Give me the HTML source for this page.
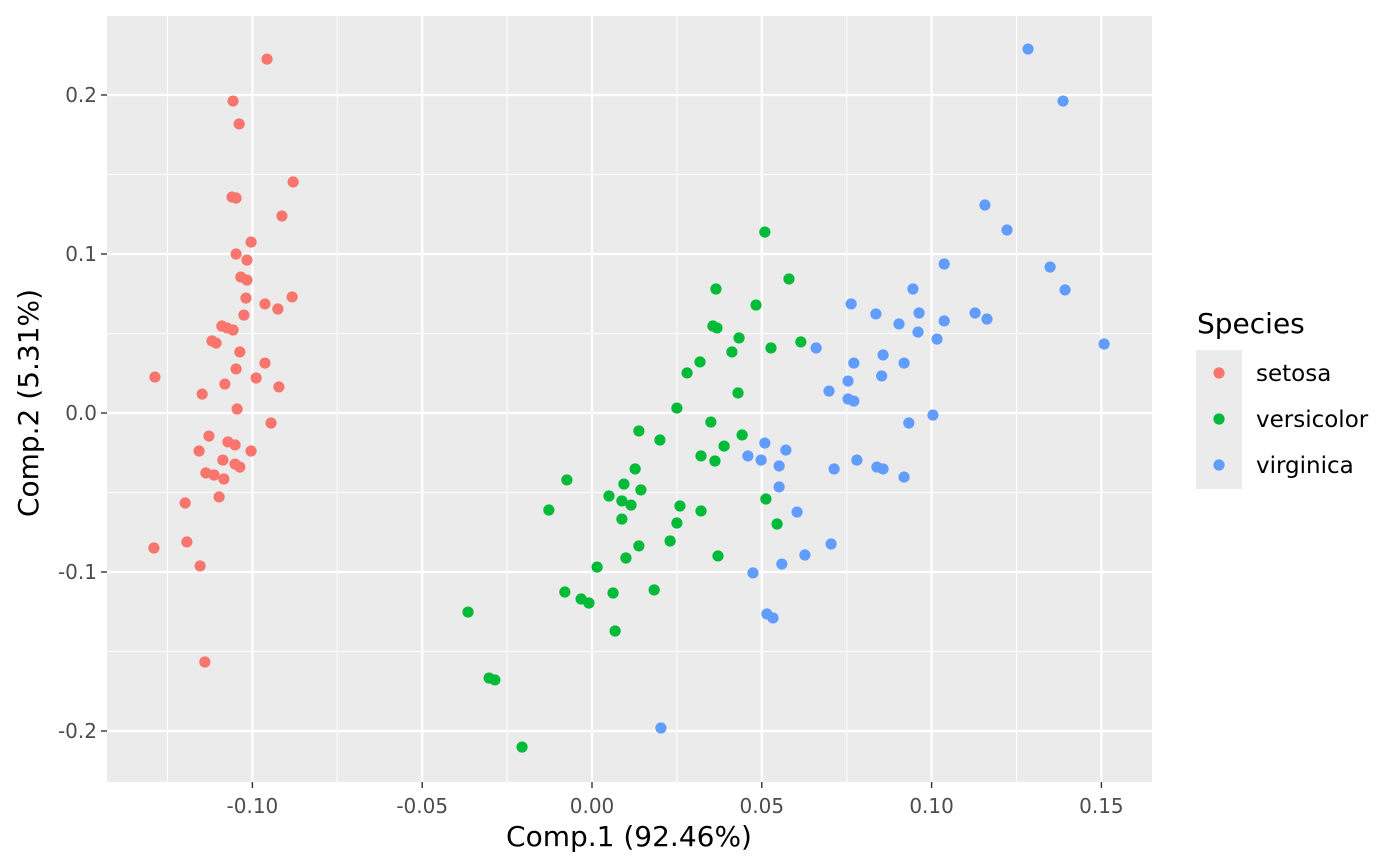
<!DOCTYPE html>
<html><head><meta charset="utf-8"><style>
html,body{margin:0;padding:0;background:#fff;}
svg{display:block;font-family:"DejaVu Sans","Liberation Sans",sans-serif;}
</style></head><body>
<svg id="chart" width="1400" height="866" xmlns="http://www.w3.org/2000/svg">
<rect x="107" y="16" width="1045" height="766" fill="#ebebeb"/>
<g id="grid"></g><g id="pts"></g><g id="ticks"></g>
<text x="629" y="846" font-size="28" text-anchor="middle" fill="#000">Comp.1 (92.46%)</text>
<text x="0" y="0" font-size="28" text-anchor="middle" fill="#000" transform="translate(38,403) rotate(-90)">Comp.2 (5.31%)</text>
<g>
<text x="1197" y="333" font-size="28" fill="#000">Species</text>
<rect x="1196" y="350" width="46" height="139" fill="#ebebeb"/>
<g id="legend"></g>
</g>
</svg>
<script>
const xTicks=[-0.10,-0.05,0.00,0.05,0.10,0.15];
const xTickLabels=["-0.10","-0.05","0.00","0.05","0.10","0.15"];
const yTicks=[-0.2,-0.1,0.0,0.1,0.2];
const yTickLabels=["-0.2","-0.1","0.0","0.1","0.2"];
const species=["setosa","versicolor","virginica"];
const colors=["#F8766D","#00BA38","#619CFF"];
const setosaX=[-0.0957,-0.1057,-0.1039,-0.1060,-0.1048,-0.0880,-0.0913,-0.1004,-0.1048,-0.1016,-0.1034,-0.1016,-0.1019,-0.0883,-0.0963,-0.0925,-0.1025,-0.1090,-0.1075,-0.1057,-0.1119,-0.1107,-0.1037,-0.0963,-0.1048,-0.1287,-0.0989,-0.1081,-0.0922,-0.1148,-0.1045,-0.0945,-0.1128,-0.1072,-0.1051,-0.1157,-0.1004,-0.1087,-0.1051,-0.1037,-0.1137,-0.1113,-0.1084,-0.1098,-0.1198,-0.1193,-0.1290,-0.1154,-0.1140];
const setosaY=[0.2226,0.1962,0.1818,0.1358,0.1352,0.1453,0.1239,0.1075,0.1000,0.0962,0.0855,0.0836,0.0723,0.0730,0.0686,0.0654,0.0616,0.0547,0.0535,0.0522,0.0453,0.0440,0.0384,0.0314,0.0277,0.0226,0.0220,0.0182,0.0164,0.0119,0.0025,-0.0063,-0.0145,-0.0182,-0.0201,-0.0239,-0.0239,-0.0296,-0.0321,-0.0340,-0.0377,-0.0390,-0.0415,-0.0528,-0.0566,-0.0811,-0.0849,-0.0962,-0.1566];
const versicolorX=[0.0509,0.0580,0.0365,0.0483,0.0356,0.0368,0.0433,0.0615,0.0527,0.0412,0.0318,0.0280,0.0430,0.0250,0.0350,0.0138,0.0442,0.0200,0.0389,0.0321,0.0362,0.0127,-0.0074,0.0094,0.0144,0.0050,0.0512,0.0088,0.0115,0.0259,-0.0127,0.0321,0.0088,0.0250,0.0545,0.0138,0.0230,0.0100,0.0371,0.0015,0.0183,-0.0080,0.0062,-0.0032,-0.0009,0.0068,-0.0365,-0.0303,-0.0286,-0.0206];
const versicolorY=[0.1138,0.0843,0.0780,0.0679,0.0547,0.0535,0.0472,0.0447,0.0409,0.0384,0.0321,0.0252,0.0126,0.0031,-0.0057,-0.0113,-0.0138,-0.0170,-0.0208,-0.0270,-0.0302,-0.0352,-0.0421,-0.0447,-0.0484,-0.0522,-0.0541,-0.0553,-0.0579,-0.0585,-0.0610,-0.0616,-0.0667,-0.0692,-0.0698,-0.0836,-0.0805,-0.0912,-0.0899,-0.0969,-0.1113,-0.1126,-0.1132,-0.1170,-0.1195,-0.1371,-0.1252,-0.1667,-0.1679,-0.2101];
const virginicaX=[0.1284,0.1387,0.1157,0.1222,0.1037,0.1349,0.1393,0.0945,0.0763,0.0963,0.0836,0.1128,0.1163,0.1037,0.0904,0.0960,0.1016,0.0660,0.1508,0.0857,0.0771,0.0919,0.0853,0.0754,0.0698,0.0754,0.0771,0.1004,0.0933,0.0509,0.0571,0.0459,0.0498,0.0780,0.0551,0.0713,0.0839,0.0857,0.0919,0.0551,0.0604,0.0704,0.0627,0.0559,0.0474,0.0515,0.0533,0.0203];
const virginicaY=[0.2289,0.1962,0.1308,0.1151,0.0937,0.0918,0.0774,0.0780,0.0686,0.0629,0.0623,0.0629,0.0591,0.0579,0.0560,0.0509,0.0465,0.0409,0.0434,0.0365,0.0314,0.0314,0.0233,0.0201,0.0138,0.0088,0.0075,-0.0013,-0.0063,-0.0189,-0.0233,-0.0270,-0.0296,-0.0296,-0.0333,-0.0352,-0.0340,-0.0352,-0.0403,-0.0465,-0.0623,-0.0824,-0.0893,-0.0950,-0.1006,-0.1264,-0.1289,-0.1981];

const NS="http://www.w3.org/2000/svg";
const X0=107,X1=1152,Y0=16,Y1=782;
function sx(v){return 592+v*3396;}
function sy(v){return 413-v*1590;}
function mk(tag,attrs,parent){const e=document.createElementNS(NS,tag);for(const k in attrs)e.setAttribute(k,attrs[k]);parent.appendChild(e);return e;}
const grid=document.getElementById('grid'),ticks=document.getElementById('ticks'),pts=document.getElementById('pts'),leg=document.getElementById('legend');
for(let i=0;i<=xTicks.length;i++){const v=(i<xTicks.length?xTicks[i]:xTicks[i-1]+0.05)-0.025;const x=sx(v);if(x>X0&&x<X1){const l=mk('line',{x1:x,x2:x,y1:Y0,y2:Y1,stroke:'#fff','stroke-width':1},grid);}}
for(let i=0;i<=yTicks.length;i++){const v=(i<yTicks.length?yTicks[i]:yTicks[i-1]+0.1)-0.05;const y=sy(v);if(y>Y0&&y<Y1){const l=mk('line',{x1:X0,x2:X1,y1:y,y2:y,stroke:'#fff','stroke-width':1},grid);}}
xTicks.forEach((v,i)=>{const x=sx(v);
 const g=mk('line',{x1:x,x2:x,y1:Y0,y2:Y1,stroke:'#fff','stroke-width':2.2},grid);
 
 const t=mk('line',{x1:x,x2:x,y1:Y1,y2:Y1+6,stroke:'#333','stroke-width':1.4},ticks);
 
 const tx=mk('text',{x:x,y:Y1+31,'font-size':20,'text-anchor':'middle',fill:'#4d4d4d'},ticks);tx.textContent=xTickLabels[i];
 });
yTicks.forEach((v,i)=>{const y=sy(v);
 const g=mk('line',{x1:X0,x2:X1,y1:y,y2:y,stroke:'#fff','stroke-width':2.2},grid);
 
 const t=mk('line',{x1:X0-6,x2:X0,y1:y,y2:y,stroke:'#333','stroke-width':1.4},ticks);
 
 const tx=mk('text',{x:X0-10,y:y+7,'font-size':20,'text-anchor':'end',fill:'#4d4d4d'},ticks);tx.textContent=yTickLabels[i];
 });
const series=[[setosaX,setosaY],[versicolorX,versicolorY],[virginicaX,virginicaY]];
series.forEach((s,k)=>{s[0].forEach((xv,i)=>{const c=mk('circle',{cx:sx(xv),cy:sy(s[1][i]),r:5.6,fill:colors[k]},pts);
 });});
species.forEach((n,k)=>{const y=373+k*46;
 const c=mk('circle',{cx:1219,cy:y,r:5.6,fill:colors[k]},leg);
 
 const t=mk('text',{x:1256,y:y+8,'font-size':23,fill:'#000'},leg);t.textContent=n;
 });
</script>
</body></html>
